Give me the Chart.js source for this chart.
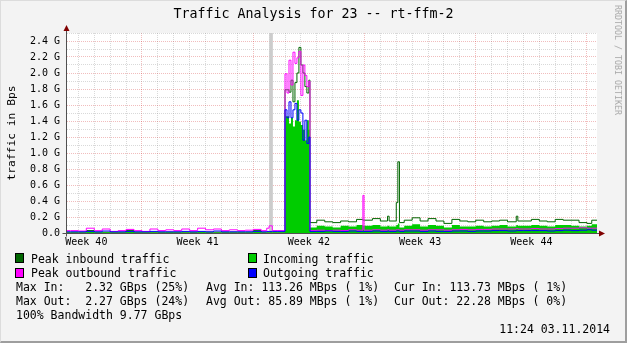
<!DOCTYPE html>
<html><head><meta charset="utf-8">
<script src="https://cdn.jsdelivr.net/npm/chart.js@4"></script>
<style>
html,body{margin:0;padding:0;background:#fff}
#wrap{position:relative;width:627px;height:343px;background:#F3F3F3;overflow:hidden;font-family:'DejaVu Sans Mono',monospace;color:#000}
#frame{position:absolute;left:0;top:0;width:627px;height:343px;box-sizing:border-box;border-left:1px solid #DCDCDC;border-top:1px solid #DCDCDC;border-right:2px solid #9E9E9E;border-bottom:2px solid #9E9E9E;pointer-events:none}
canvas{position:absolute;left:0;top:0}
.t{position:absolute;white-space:pre;font-size:11.5px;line-height:14px}
.box{position:absolute;width:7px;height:8px;border:1px solid #000}
#title{position:absolute;left:0;top:6px;width:627px;text-align:center;font-size:13.3px;line-height:16px;white-space:pre}
#ytitle{position:absolute;left:11.5px;top:133px;font-size:11.3px;line-height:14px;white-space:pre;transform:translate(-50%,-50%) rotate(-90deg)}
#credit{position:absolute;left:618px;top:60px;font-size:8.3px;line-height:10px;white-space:pre;color:#A8A8A8;transform:translate(-50%,-50%) rotate(90deg)}
</style></head>
<body>
<div id="wrap">
<canvas id="c" width="627" height="343"></canvas>
<div id="title">Traffic Analysis for 23 -- rt-ffm-2</div>
<div id="ytitle">traffic in Bps</div>
<div id="credit">RRDTOOL / TOBI OETIKER</div>
<div class="box" style="left:15px;top:253px;background:#006600"></div>
<div class="t" style="left:31px;top:252px">Peak inbound traffic</div>
<div class="box" style="left:248px;top:253px;background:#00CC00"></div>
<div class="t" style="left:263px;top:252px">Incoming traffic</div>
<div class="box" style="left:15px;top:268px;background:#FF00FF"></div>
<div class="t" style="left:31px;top:266px">Peak outbound traffic</div>
<div class="box" style="left:248px;top:268px;background:#0000FF"></div>
<div class="t" style="left:263px;top:266px">Outgoing traffic</div>
<div class="t" style="left:16px;top:280px">Max In:   2.32 GBps (25%)</div>
<div class="t" style="left:206px;top:280px">Avg In: 113.26 MBps ( 1%)</div>
<div class="t" style="left:394px;top:280px">Cur In: 113.73 MBps ( 1%)</div>
<div class="t" style="left:16px;top:294px">Max Out:  2.27 GBps (24%)</div>
<div class="t" style="left:206px;top:294px">Avg Out: 85.89 MBps ( 1%)</div>
<div class="t" style="left:394px;top:294px">Cur Out: 22.28 MBps ( 0%)</div>
<div class="t" style="left:16px;top:308px">100% Bandwidth 9.77 GBps</div>
<div class="t" style="right:17px;top:322px">11:24 03.11.2014</div>
<div id="frame"></div>
</div>
<script>
// time in days relative to Monday 00:00 of week 41
const dayTimes = [
  -4.78, -4.5, -4.0, -3.5, -3.0, -2.5, -2.0, -1.5, -1.0, -0.5,
  0, 0.5, 1.0, 1.5, 2.0, 2.5, 3.0, 3.5, 4.0, 4.5,
  5.0, 5.5, 6.0, 6.5, 7.0, 7.5, 7.85, 8.0, 8.2, 8.5,
  9.0, 9.125, 9.25, 9.375, 9.5, 9.625, 9.75, 9.875, 10.0, 10.125, 10.25, 10.375, 10.5,
  10.57, 11.0, 11.5, 12.0, 12.5, 13.0, 13.5, 13.9, 13.97, 14.5,
  15.0, 15.45, 15.55, 16.0, 16.1, 16.2, 16.5, 17.0, 17.5, 18.0,
  18.5, 19.0, 19.5, 20.0, 20.5, 21.0, 21.5, 22.0, 22.5, 23.0,
  23.55, 23.65, 24.0, 24.5, 25.0, 25.5, 26.0, 26.5, 27.0, 27.5,
  28.0, 28.3, 28.63
];
// values in GBps
const peakInbound = [
  0.01,0.01,0.01,0.03,0.01,0.01,0.01,0.01,0.03,0.01,
  0.01,0.01,0.01,0.01,0.01,0.01,0.01,0.01,0.01,0.01,
  0.01,0.01,0.01,0.01,0.03,0.01,0.01,0.01,0.01,0.01,
  1.79,1.79,1.76,1.91,1.64,1.88,2.0,2.32,2.1,2.0,1.83,1.75,1.91,
  0.13,0.16,0.14,0.13,0.15,0.14,0.17,0.16,0.16,0.18,
  0.15,0.21,0.15,0.38,0.89,0.13,0.16,0.19,0.15,0.18,
  0.15,0.12,0.17,0.15,0.14,0.16,0.14,0.15,0.16,0.14,
  0.21,0.15,0.15,0.17,0.15,0.14,0.17,0.16,0.16,0.13,
  0.12,0.16,0.16
];
const incoming = [
  0.005,0.005,0.005,0.02,0.005,0.01,0.005,0.005,0.02,0.005,
  0.005,0.005,0.005,0.01,0.005,0.005,0.005,0.01,0.005,0.005,
  0.005,0.005,0.005,0.005,0.02,0.005,0.005,0.005,0.005,0.005,
  1.46,1.46,1.37,1.44,1.33,1.41,1.66,1.39,1.35,1.29,1.16,1.41,1.29,
  0.07,0.09,0.08,0.07,0.09,0.08,0.1,0.09,0.09,0.1,
  0.08,0.09,0.08,0.1,0.12,0.07,0.09,0.11,0.08,0.1,
  0.09,0.07,0.1,0.08,0.08,0.09,0.08,0.09,0.1,0.08,
  0.1,0.09,0.09,0.1,0.09,0.08,0.1,0.1,0.09,0.08,
  0.09,0.11,0.11
];
const peakOutbound = [
  0.03,0.03,0.025,0.06,0.03,0.05,0.02,0.03,0.045,0.03,
  0.02,0.05,0.03,0.04,0.03,0.05,0.03,0.06,0.04,0.05,
  0.03,0.04,0.03,0.035,0.045,0.03,0.06,0.09,0.03,0.03,
  1.99,1.75,2.16,1.85,2.26,2.12,2.19,2.27,1.72,2.1,1.97,1.83,1.9,
  0.03,0.035,0.03,0.035,0.03,0.04,0.035,0.47,0.035,0.04,
  0.035,0.04,0.035,0.04,0.04,0.035,0.04,0.04,0.035,0.04,
  0.04,0.035,0.04,0.045,0.04,0.045,0.045,0.05,0.05,0.05,
  0.055,0.05,0.05,0.055,0.05,0.05,0.055,0.06,0.06,0.065,
  0.06,0.06,0.06
];
const outgoing = [
  0.015,0.015,0.015,0.02,0.015,0.025,0.015,0.015,0.02,0.015,
  0.015,0.02,0.015,0.015,0.015,0.02,0.015,0.02,0.015,0.025,
  0.015,0.015,0.015,0.015,0.02,0.015,0.02,0.02,0.02,0.02,
  1.54,1.44,1.64,1.44,1.54,1.62,1.41,1.54,1.5,1.16,1.41,1.12,1.2,
  0.02,0.02,0.025,0.02,0.02,0.025,0.02,0.02,0.02,0.025,
  0.02,0.025,0.02,0.025,0.025,0.02,0.025,0.025,0.02,0.025,
  0.02,0.02,0.025,0.025,0.02,0.025,0.025,0.03,0.03,0.025,
  0.03,0.03,0.03,0.03,0.03,0.025,0.03,0.035,0.03,0.035,
  0.04,0.035,0.035
];
const gapDays = [8.12];
const gapLevels = [2.5];
const weekCenters = [-3.5, 3.5, 10.5, 17.5, 24.5];
const weekLabels = ['Week 40', 'Week 41', 'Week 42', 'Week 43', 'Week 44'];
const yTickLabels = ['0.0','0.2 G','0.4 G','0.6 G','0.8 G','1.0 G','1.2 G','1.4 G','1.6 G','1.8 G','2.0 G','2.2 G','2.4 G'];
const X_MIN = -4.78, X_MAX = 28.63, Y_MAX = 2.5;

const pts = arr => arr.map((v, i) => ({x: dayTimes[i], y: v}));
const MAJOR = 'rgba(200,0,0,0.26)';
const MINOR = 'rgba(128,128,128,0.3)';
const AXIS = '#505050';

const rrdPlugin = {
  id: 'rrd',
  beforeDraw(chart) {
    const {ctx, chartArea: a} = chart;
    ctx.save();
    ctx.fillStyle = '#fff';
    ctx.fillRect(a.left, a.top, a.right - a.left, a.bottom - a.top);
    ctx.restore();
  },
  afterDraw(chart) {
    const {ctx, chartArea: a} = chart;
    const x0 = Math.round(a.left) + 0.5, y0 = Math.round(a.bottom) + 0.5;
    ctx.save();
    ctx.strokeStyle = AXIS; ctx.lineWidth = 1;
    ctx.beginPath();
    ctx.moveTo(x0, y0 + 3); ctx.lineTo(x0, a.top - 3);
    ctx.moveTo(x0 - 4, y0); ctx.lineTo(a.right + 3, y0);
    ctx.stroke();
    ctx.fillStyle = '#800000';
    ctx.beginPath();
    ctx.moveTo(x0 - 3, a.top - 2); ctx.lineTo(x0 + 3, a.top - 2); ctx.lineTo(x0, a.top - 8); ctx.closePath(); ctx.fill();
    ctx.beginPath();
    ctx.moveTo(a.right + 2, y0 - 3); ctx.lineTo(a.right + 2, y0 + 3); ctx.lineTo(a.right + 8, y0); ctx.closePath(); ctx.fill();
    ctx.restore();
  }
};

const lineDs = (label, data, color) => ({
  type: 'line', label, data: pts(data), borderColor: color, borderWidth: 1,
  stepped: true, pointRadius: 0, fill: false, tension: 0
});

new Chart(document.getElementById('c'), {
  type: 'line',
  data: {
    datasets: [
      lineDs('Outgoing traffic', outgoing, '#0000FF'),
      lineDs('Peak outbound traffic', peakOutbound, '#FF00FF'),
      {type: 'line', label: 'Incoming traffic', data: pts(incoming), borderColor: 'rgba(0,0,0,0)', borderWidth: 0,
       backgroundColor: '#00CC00', fill: 'origin', stepped: true, pointRadius: 0, tension: 0},
      lineDs('Peak inbound traffic', peakInbound, '#006600'),
      {type: 'bar', label: 'gap', data: gapDays.map((d, i) => ({x: d, y: gapLevels[i]})),
       backgroundColor: '#CCCCCC', barThickness: 3, borderWidth: 0}
    ]
  },
  options: {
    responsive: false, animation: false, devicePixelRatio: 1,
    layout: {padding: {left: 0, right: 30, top: 33, bottom: 90}},
    plugins: {legend: {display: false}, tooltip: {enabled: false}, title: {display: false}},
    scales: {
      x: {
        type: 'linear', min: X_MIN, max: X_MAX, offset: false,
        afterBuildTicks: s => {
          const vals = [];
          for (let d = Math.ceil(X_MIN); d <= Math.floor(X_MAX); d++) vals.push(d);
          weekCenters.forEach(c => vals.push(c));
          vals.sort((p, q) => p - q);
          s.ticks = vals.map(v => ({value: v}));
        },
        afterFit: s => { s.height = 20; },
        grid: {
          offset: false, drawTicks: false, lineWidth: 1,
          color: c => {
            const v = c.tick && c.tick.value;
            if (!Number.isInteger(v)) return 'rgba(0,0,0,0)';
            return v % 7 === 0 ? MAJOR : MINOR;
          }
        },
        border: {display: true, color: AXIS, width: 1, dash: [1, 1]},
        ticks: {
          autoSkip: false, maxRotation: 0, padding: 3, color: '#000',
          font: {family: 'DejaVu Sans Mono', size: 10},
          callback: v => { const k = weekCenters.indexOf(v); return k >= 0 ? weekLabels[k] : ''; }
        }
      },
      y: {
        type: 'linear', min: 0, max: Y_MAX,
        afterBuildTicks: s => {
          const t = [];
          for (let i = 0; i <= 25; i++) t.push({value: i / 10});
          s.ticks = t;
        },
        afterFit: s => { s.width = 66; },
        grid: {
          drawTicks: false, lineWidth: 1,
          color: c => (c.index % 2 === 0 ? MAJOR : MINOR)
        },
        border: {display: true, color: AXIS, width: 1, dash: [1, 1]},
        ticks: {
          autoSkip: false, padding: 6, color: '#000',
          font: {family: 'DejaVu Sans Mono', size: 10},
          callback: (v, i) => (i % 2 === 0 && i / 2 < yTickLabels.length) ? yTickLabels[i / 2] : ''
        }
      }
    }
  },
  plugins: [rrdPlugin]
});
</script>
</body></html>
